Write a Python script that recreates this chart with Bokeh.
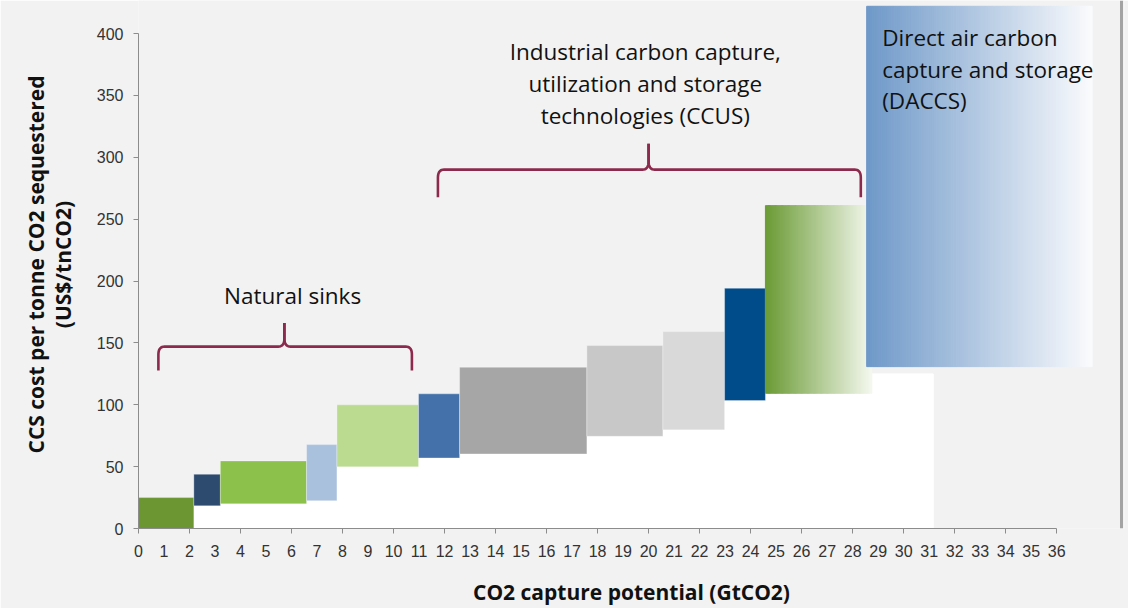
import numpy as np
from bokeh.plotting import figure
from bokeh.models import FixedTicker, Span, Range1d
from bokeh.core.properties import value
from bokeh.embed import file_html
from bokeh.resources import INLINE

# ---------------- data ----------------
# capture potential of each technology step (GtCO2, widths of the steps)
capacity = [2.17, 1.04, 3.38, 1.19, 3.20, 1.61, 4.99, 2.98, 2.42, 1.60, 4.17]
# cost range of each step (US$/tnCO2)
cost_low = [0, 18.3, 19.9, 22.5, 49.8, 57.0, 60.3, 74.5, 79.7, 103.4, 109.3]
cost_high = [25.0, 43.8, 54.6, 67.8, 99.9, 108.8, 130.3, 147.8, 159.1, 194.1, 260.9]
bar_colors = ["#6b9632", "#2d4a6f", "#8cc24b", "#aac1dd", "#bbdb91", "#4471a9",
              "#a6a6a6", "#c8c8c8", "#d9d9d9", "#004c8a", "gradient"]
green_grad = [(106, 154, 52), (244, 248, 238)]

# Direct air capture block
daccs_x = [28.55, 37.39]
daccs_cost = [130.8, 422.0]
daccs_grad = [(110, 152, 200), (250, 251, 253)]
daccs_base_x = [28.75, 31.16]
daccs_base_cost = 124.9

x_ticks = list(range(0, 37))
x_tick_marks = list(range(0, 37, 2))
y_ticks = list(range(0, 401, 50))

# annotation texts and their anchor positions (data units)
natural_label = ["Natural sinks"]
natural_pos = ([6.04], [188.0])
ccus_label = ["Industrial carbon capture,", "utilization and storage", "technologies (CCUS)"]
ccus_pos = ([19.87] * 3, [385.3, 359.4, 333.6])
daccs_label = ["Direct air carbon", "capture and storage", "(DACCS)"]
daccs_pos = ([29.16] * 3, [396.9, 371.0, 345.5])

# brackets: (x_left, x_right, x_center, y_line, y_ends, y_peak)
brackets = [(0.78, 10.72, 5.72, 147.0, 127.6, 166.1),
            (11.74, 28.32, 20.0, 290.0, 267.6, 311.0)]

# ---------------- figure ----------------
BG = "#f2f2f2"
W, H = 1128, 608
FL, FB, FR = 138, 528, 1124   # frame left / bottom / right in page pixels
p = figure(width=W, height=H, output_backend="svg", toolbar_location=None,
           x_range=Range1d(0, (FR - FL) / 25.505), y_range=Range1d(0, FB / 1.2375),
           min_border_left=FL, min_border_right=W - FR, min_border_top=0,
           min_border_bottom=H - FB)
p.background_fill_color = BG
p.border_fill_color = BG
p.outline_line_color = None
p.xgrid.visible = False
p.ygrid.visible = False

x0 = np.concatenate([[0], np.cumsum(capacity)[:-1]])
x1 = np.cumsum(capacity)

# white base under each floating step
p.quad(left=x0, right=x1, bottom=0, top=cost_low, fill_color="white", line_color="white")
p.quad(left=[daccs_base_x[0]], right=[daccs_base_x[1]], bottom=0, top=[daccs_base_cost],
       fill_color="white", line_color="white")

def gradient(l, r, b, t, c0, c1, n=90):
    edges = np.linspace(l, r, n + 1)
    f = (np.arange(n) + 0.5) / n
    cols = ["#%02x%02x%02x" % tuple(int(round(a + (bb - a) * ff)) for a, bb in zip(c0, c1)) for ff in f]
    p.quad(left=edges[:-1], right=edges[1:], bottom=b, top=t,
           fill_color=cols, line_color=cols, line_width=1)

for i in range(len(capacity)):
    if bar_colors[i] == "gradient":
        gradient(x0[i], x1[i], cost_low[i], cost_high[i], green_grad[0], green_grad[1])
    else:
        p.quad(left=[x0[i]], right=[x1[i]], bottom=[cost_low[i]], top=[cost_high[i]],
               fill_color=bar_colors[i], line_color="white", line_alpha=0.3, line_width=1)

gradient(daccs_x[0], daccs_x[1], daccs_cost[0], daccs_cost[1], daccs_grad[0], daccs_grad[1], n=120)

# brackets
BR = "#8b2a4c"
rx, ry = 0.24, 6.5
def qb(P0, P1, P2, n=10):
    t = np.linspace(0, 1, n)
    xs = (1 - t) ** 2 * P0[0] + 2 * (1 - t) * t * P1[0] + t ** 2 * P2[0]
    ys = (1 - t) ** 2 * P0[1] + 2 * (1 - t) * t * P1[1] + t ** 2 * P2[1]
    return list(xs), list(ys)

for (xl, xr, xc, yl, ye, yp) in brackets:
    for side in (-1, 1):
        xend = xl if side == -1 else xr
        xs, ys = [xend], [ye]
        cx, cy = qb((xend, yl - ry), (xend, yl), (xend - side * rx, yl))
        xs += cx; ys += cy
        cx, cy = qb((xc + side * rx, yl), (xc, yl), (xc, yl + ry))
        xs += cx; ys += cy
        xs.append(xc); ys.append(yp)
        p.line(xs, ys, line_color=BR, line_width=2.6)

# right frame border
p.add_layout(Span(location=(1121 - FL) / 25.505, dimension="height",
                  line_color="#a3a3a3", line_width=3))

# texts
TF = value("Open Sans")
p.text(x=natural_pos[0], y=natural_pos[1], text=natural_label, text_font=TF, text_font_size="22.5px",
       text_align="center", text_baseline="alphabetic", text_color="#111111")
p.text(x=ccus_pos[0], y=ccus_pos[1], text=ccus_label, text_font=TF,
       text_font_size="22.5px", text_align="center", text_baseline="alphabetic", text_color="#111111")
p.text(x=daccs_pos[0], y=daccs_pos[1], text=daccs_label, text_font=TF,
       text_font_size="22.5px", text_align="left", text_baseline="alphabetic", text_color="#111111")

# axes
AX = "#8c8c8c"
for ax in (p.xaxis[0], p.yaxis[0]):
    ax.axis_line_color = AX
    ax.major_tick_line_color = AX
    ax.minor_tick_line_color = AX
    ax.major_label_text_font = "Liberation Sans"
    ax.major_label_text_font_size = "16px"
    ax.major_label_text_color = "#333333"
    ax.axis_label_text_font = "Open Sans"
    ax.axis_label_text_font_style = "bold"
    ax.axis_label_text_font_size = "21px"
    ax.axis_label_text_color = "#111111"
    ax.major_label_standoff = 10

p.xaxis.ticker = FixedTicker(ticks=x_ticks, minor_ticks=x_tick_marks)
p.xaxis.bounds = (0, 36)
p.xaxis.major_tick_out = 0
p.xaxis.major_tick_in = 0
p.xaxis.minor_tick_out = 5
p.xaxis.minor_tick_in = 0
p.xaxis.major_label_standoff = 11
p.xaxis.axis_label = "CO2 capture potential (GtCO2)"
p.xaxis.axis_label_standoff = 18

p.yaxis.ticker = FixedTicker(ticks=y_ticks)
p.yaxis.bounds = (0, 400)
p.yaxis.major_tick_out = 5
p.yaxis.major_tick_in = 0
p.yaxis.minor_tick_line_color = None
p.yaxis.axis_label = "CCS cost per tonne CO2 sequestered\n(US$/tnCO2)"
p.yaxis.axis_label_text_line_height = 0.95
p.yaxis.axis_label_standoff = 17

open("out.html", "w").write(file_html(p, INLINE))
